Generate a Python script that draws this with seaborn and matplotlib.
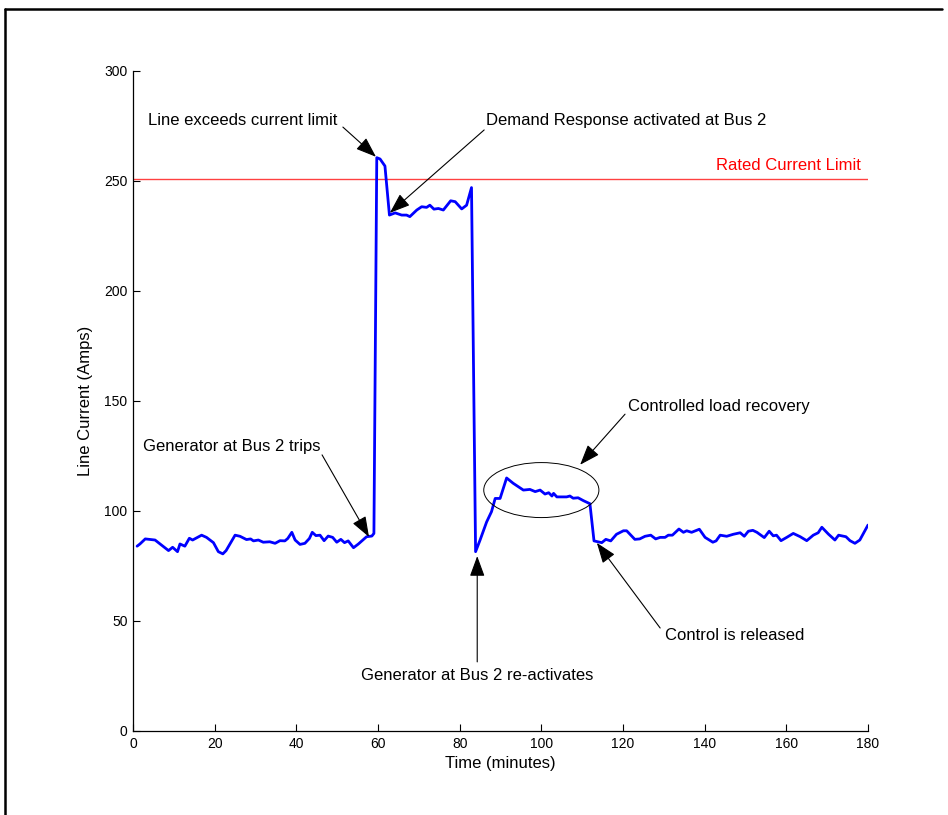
import numpy as np
import matplotlib
matplotlib.use("Agg")
import matplotlib.pyplot as plt
from matplotlib.patches import Ellipse
from matplotlib.lines import Line2D
import seaborn as sns
import pandas as pd

sns.set_theme(style="white")
plt.rcParams.update({
    "font.family": ["Liberation Sans", "DejaVu Sans"],
    "xtick.direction": "in",
    "ytick.direction": "in",
})

# values
time = [1, 1.7, 3, 5.4, 7, 8.7, 9.7, 10.9, 11.5, 12.7, 13.8, 14.6, 16.8, 18, 19.7, 20.9, 22, 22.8,
        25, 26.2, 27.8, 28.8, 29.5, 30.7, 31.9, 33.5, 34.8, 36, 37.2, 37.9, 38.9, 39.7, 40.9, 42.1,
        43.2, 43.9, 44.8, 45.8, 46.8, 47.8, 48.9, 49.9, 50.9, 51.8, 52.7, 54, 55.2, 57.2, 58.5, 59.0,
        59.7, 60.5, 61.7, 62.8, 64.2, 65.8, 67, 67.8, 69.5, 70.7, 71.9, 72.7, 73.7, 74.8, 76, 77.8,
        78.9, 80.5, 81.7, 82.9, 83.9, 85, 86.6, 87.8, 88.7, 89.9, 91.5, 93.1, 95.6, 97.2, 98.5, 99.7,
        100.9, 101.8, 102.6, 103, 103.8, 106.2, 107, 107.8, 109, 110.3, 111.9, 112.9, 114.8, 115.8,
        117, 118.4, 120.1, 120.9, 122.9, 124.1, 125.4, 126.8, 128, 129.1, 130.3, 131.1, 132.1, 133.7,
        134.8, 135.6, 136.8, 138.7, 140.1, 142, 142.8, 143.8, 145.4, 147, 148.7, 149.7, 150.7, 151.8,
        152.8, 154.6, 155.8, 156.8, 157.6, 158.7, 160.1, 161.7, 163.4, 165, 166.6, 167.8, 168.7,
        170.3, 171.9, 172.8, 174.6, 175.6, 176.8, 178, 180]
current = [84, 85, 87.3, 86.8, 84.5, 82, 83.5, 81.5, 85, 84, 87.6, 86.8, 89, 88, 85.6, 81.5, 80.5, 82,
           89, 88.5, 87, 87.3, 86.4, 86.8, 85.8, 86, 85.3, 86.5, 86.4, 87.5, 90.3, 86.8, 84.8, 85.3,
           87.5, 90.3, 88.8, 89, 86.5, 88.6, 88, 85.8, 87.1, 85.6, 86.4, 83.3, 85, 88.3, 88.6, 89.8,
           260.6, 260, 256.8, 234.5, 235.5, 234.5, 234.5, 233.8, 236.8, 238.3, 238, 239, 237.2, 237.5,
           236.8, 241, 240.6, 237.3, 239, 247, 81.5, 86.8, 95, 99.7, 105.7, 105.7, 115, 112.6, 109.5,
           109.8, 108.8, 109.5, 107.7, 108.3, 106.8, 108, 106.4, 106.4, 106.8, 105.8, 106, 104.7,
           103.3, 86.4, 85.6, 87.1, 86.4, 89.4, 91, 91, 87.1, 87.3, 88.5, 89, 87.3, 88, 88, 89, 89,
           91.8, 90.3, 91, 90.3, 91.7, 88, 85.8, 86.4, 89, 88.5, 89.4, 90.1, 88.5, 90.8, 91.2, 90.3,
           87.9, 90.8, 88.7, 89, 86.5, 88, 89.8, 88.3, 86.5, 89, 90.1, 92.6, 89.5, 86.8, 89, 88.3,
           86.5, 85.3, 86.8, 93.6]
rated_limit = 251

labels = ["Line exceeds current limit", "Demand Response activated at Bus 2",
          "Generator at Bus 2 trips", "Controlled load recovery",
          "Generator at Bus 2 re-activates", "Control is released"]
label_pos = [(3.7, 277.3), (86.5, 277.3), (2.4, 129.5), (121.2, 147.7), (84.3, 25), (130.3, 43.6)]
label_ha = ["left", "left", "left", "left", "center", "left"]
arrow_tail = [(51.4, 274.5), (86.0, 273.2), (46.3, 125.5), (120.5, 144), (84.3, 31.4), (129.1, 46.8)]
arrow_head = [(59.5, 261), (62.9, 235.5), (57.8, 88.2), (109.5, 121), (84.3, 79.5), (113.6, 85.5)]

df = pd.DataFrame({"Time (minutes)": time, "Line Current (Amps)": current})

fig = plt.figure(figsize=(9.48, 8.15), dpi=100)
ax = fig.add_axes([0.1403, 0.1031, 0.7753, 0.8098])

ax.axhline(rated_limit, color="#ff0000", lw=1.0, alpha=0.75, zorder=1)
sns.lineplot(data=df, x="Time (minutes)", y="Line Current (Amps)", ax=ax,
             color="#0000ff", lw=2.0, estimator=None, sort=False, zorder=3)

ax.text(178.2, rated_limit + 6, "Rated Current Limit", color="red", fontsize=12,
        ha="right", va="center")

for txt, pos, ha in zip(labels, label_pos, label_ha):
    ax.text(pos[0], pos[1], txt, fontsize=12, ha=ha, va="center", color="black")
for tail, head in zip(arrow_tail, arrow_head):
    ax.annotate("", xy=head, xytext=tail,
                arrowprops=dict(arrowstyle="-|>,head_length=0.9,head_width=0.33",
                                mutation_scale=14, color="black", lw=0.8,
                                shrinkA=0, shrinkB=0))

ax.add_patch(Ellipse((100, 109.5), 28.2, 25, fill=False, ec="black", lw=0.7, zorder=4))

ax.set_xlim(0, 180)
ax.set_ylim(0, 300)
ax.set_xticks(np.arange(0, 181, 20))
ax.set_yticks(np.arange(0, 301, 50))
ax.tick_params(axis="both", bottom=True, left=True, labelsize=10, length=5, width=0.8,
               color="black", labelcolor="black", pad=4)
ax.set_xlabel("Time (minutes)", fontsize=12, color="black", labelpad=4)
ax.set_ylabel("Line Current (Amps)", fontsize=12, color="black", labelpad=8)
for side in ["top", "right"]:
    ax.spines[side].set_visible(False)
for side in ["left", "bottom"]:
    ax.spines[side].set_color("black")
    ax.spines[side].set_linewidth(0.9)

# outer frame (top and left edges visible in the reference)
fig.add_artist(Line2D([5 / 948, 5 / 948], [0, 1 - 8.5 / 815], color="black", lw=1.8,
                      transform=fig.transFigure))
fig.add_artist(Line2D([5 / 948, 942 / 948], [1 - 8.5 / 815, 1 - 8.5 / 815], color="black",
                      lw=1.8, transform=fig.transFigure))

fig.savefig("out.png", dpi=100, facecolor="white")
